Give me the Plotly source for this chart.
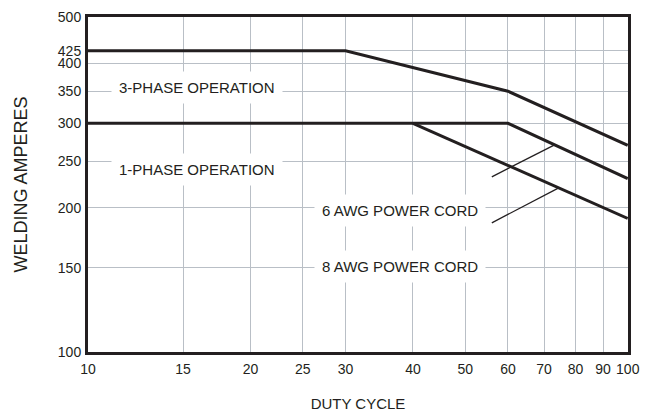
import math
import plotly.graph_objects as go

# ---- data ----
three_phase_x = [10, 30, 60, 100]
three_phase_y = [425, 425, 350, 270]

one_phase_x = [10, 60, 100]          # 6 AWG power cord
one_phase_y = [300, 300, 230]

awg8_x = [40, 100]                   # 8 AWG power cord branch
awg8_y = [300, 190]

pointer6_x = [56, 73.2]
pointer6_y = [232, 270.5]
pointer8_x = [56, 74.5]
pointer8_y = [186, 220]

x_ticks = [10, 15, 20, 25, 30, 40, 50, 60, 70, 80, 90, 100]
y_ticks = [100, 150, 200, 250, 300, 350, 400, 425, 500]

labels = ["3-PHASE OPERATION", "1-PHASE OPERATION", "6 AWG POWER CORD", "8 AWG POWER CORD"]
label_x = [15.9, 15.9, 37.9, 37.9]
label_y = [356, 240, 197, 151]

INK = "#231f20"
GRID = "#b9bfc6"
FONT = "Liberation Sans Narrow, Arial Narrow, Liberation Sans, Arial, sans-serif"

fig = go.Figure()
for xs, ys in [(three_phase_x, three_phase_y), (one_phase_x, one_phase_y), (awg8_x, awg8_y)]:
    fig.add_trace(go.Scatter(x=xs, y=ys, mode="lines",
                             line=dict(color=INK, width=3), hoverinfo="skip",
                             showlegend=False))
for xs, ys in [(pointer6_x, pointer6_y), (pointer8_x, pointer8_y)]:
    fig.add_trace(go.Scatter(x=xs, y=ys, mode="lines",
                             line=dict(color=INK, width=1.3), hoverinfo="skip",
                             showlegend=False))

# annotations on log axes take log10 coordinates
for t, x, y in zip(labels, label_x, label_y):
    fig.add_annotation(x=math.log10(x), y=math.log10(y), xref="x", yref="y",
                       text=t, showarrow=False,
                       font=dict(family=FONT, size=15, color=INK),
                       bgcolor="white", borderpad=7)

fig.update_xaxes(type="log", range=[1, 2.0005], tickvals=x_ticks,
                 ticktext=[str(v) for v in x_ticks], tickangle=0,
                 showgrid=True, gridcolor=GRID, gridwidth=1,
                 showline=True, linecolor=INK, linewidth=3, mirror=True,
                 ticks="", ticklabelstandoff=2, automargin=False,
                 tickfont=dict(family=FONT, size=14, color=INK),
                 title=dict(text="DUTY CYCLE", standoff=23,
                            font=dict(family=FONT, size=15, color=INK)),
                 zeroline=False)
fig.update_yaxes(type="log", range=[2, 2.69897], tickvals=y_ticks,
                 ticktext=[str(v) for v in y_ticks],
                 showgrid=True, gridcolor=GRID, gridwidth=1,
                 showline=True, linecolor=INK, linewidth=3, mirror=True,
                 ticks="", ticklabelstandoff=1, automargin=False,
                 tickfont=dict(family=FONT, size=14, color=INK),
                 title=dict(text="WELDING AMPERES", standoff=26,
                            font=dict(family=FONT, size=18, color=INK)),
                 zeroline=False)

# page body adds an 8px offset, margins compensate for it
fig.update_layout(width=654, height=418,
                  margin=dict(l=80, r=34, t=9, b=74),
                  paper_bgcolor="white", plot_bgcolor="white",
                  showlegend=False)

fig.write_html("out.html")
